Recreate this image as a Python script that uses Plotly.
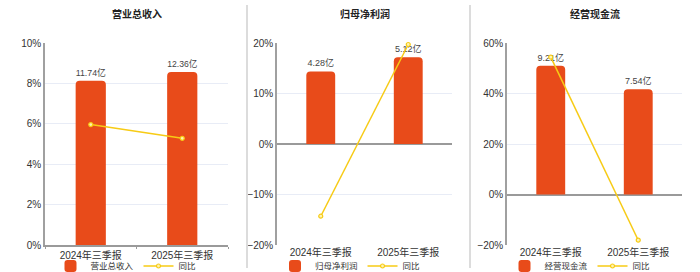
import plotly.graph_objects as go

categories = ["2024年三季报", "2025年三季报"]
titles = ["营业总收入", "归母净利润", "经营现金流"]
bar_values = [[11.74, 12.36], [4.28, 5.12], [9.21, 7.54]]
yoy_values = [[5.96, 5.28], [-14.3, 19.7], [54.4, -18.1]]
pct_ranges = [[0, 10], [-20, 20], [-20, 60]]
pct_dticks = [2, 10, 20]
bar_ranges = [[0, 14.43], [-5.96, 5.96], [-3.61, 10.84]]

W, H = 700, 272
x_domains = [[45 / W, 228 / W], [277 / W, 452 / W], [507 / W, 682 / W]]
legend_x = [126 / W, 350 / W, 580 / W]

BAR_COLOR = "#E84B1A"
LINE_COLOR = "#F7CB15"
FONT = "Liberation Sans, Noto Sans CJK SC, sans-serif"

fig = go.Figure()
layout = dict(
    width=W, height=H,
    margin=dict(l=0, r=0, t=43, b=27, autoexpand=False),
    paper_bgcolor="white", plot_bgcolor="white",
    font=dict(family=FONT, color="#333333", size=10),
    showlegend=True,
    bargap=0.67,
)
annotations = []
shapes = []

for i in range(3):
    xa = "x" if i == 0 else f"x{i+1}"
    yb_n = 2 * i + 1
    yp_n = 2 * i + 2
    yb = "y" if yb_n == 1 else f"y{yb_n}"
    yp = f"y{yp_n}"
    leg = "legend" if i == 0 else f"legend{i+1}"

    fig.add_trace(go.Bar(
        x=categories, y=bar_values[i], xaxis=xa, yaxis=yb,
        name=titles[i], marker=dict(color=BAR_COLOR, cornerradius=4,
                                    line=dict(width=0)),
        text=[f"{v:.2f}亿" for v in bar_values[i]],
        textposition="outside", cliponaxis=False,
        textfont=dict(size=9, color="#444444"),
        legend=leg, hoverinfo="skip",
    ))
    fig.add_trace(go.Scatter(
        x=categories, y=yoy_values[i], xaxis=xa, yaxis=yp,
        name="同比", mode="lines+markers",
        line=dict(color=LINE_COLOR, width=1.5),
        marker=dict(symbol="circle", size=4, color="#FFF3B0",
                    line=dict(color=LINE_COLOR, width=1.2)),
        cliponaxis=False, legend=leg, hoverinfo="skip",
    ))

    xkey = "xaxis" if i == 0 else f"xaxis{i+1}"
    ybkey = "yaxis" if yb_n == 1 else f"yaxis{yb_n}"
    ypkey = f"yaxis{yp_n}"

    layout[xkey] = dict(
        domain=x_domains[i], anchor=yb, type="category",
        showgrid=False, zeroline=False, automargin=False,
        showline=(i == 0), linecolor="#9A9A9A", linewidth=2,
        ticks="outside" if i == 0 else "", tickson="boundaries",
        ticklen=2, tickcolor="#9A9A9A",
        tickfont=dict(size=10, color="#333333"),
        fixedrange=True,
    )
    layout[ybkey] = dict(
        domain=[0, 1], anchor=xa, range=bar_ranges[i], visible=False,
        fixedrange=True,
    )
    layout[ypkey] = dict(
        domain=[0, 1], anchor=xa, overlaying=yb, side="left",
        range=pct_ranges[i], dtick=pct_dticks[i], ticksuffix="%",
        showgrid=True, gridcolor="#E8ECF6", gridwidth=1,
        zeroline=(i != 0), zerolinecolor="#9A9A9A", zerolinewidth=2,
        showline=True, linecolor="#A0A0A0", linewidth=1.5,
        ticks="", tickfont=dict(size=10, color="#333333"),
        automargin=False, fixedrange=True,
    )
    legkey = "legend" if i == 0 else f"legend{i+1}"
    layout[legkey] = dict(
        orientation="h", x=legend_x[i], xanchor="center",
        y=(245 - 266) / 202, yanchor="middle",
        font=dict(size=8.5, color="#333333"),
        itemwidth=30, bgcolor="rgba(0,0,0,0)", tracegroupgap=0,
    )
    annotations.append(dict(
        text=f"<b>{titles[i]}</b>", xref="paper", yref="paper",
        x=(x_domains[i][0] + x_domains[i][1]) / 2,
        y=(245 - 14) / 202, xanchor="center", yanchor="middle",
        showarrow=False, font=dict(size=10, color="#222222"),
    ))

for sx in [247 / W, 470 / W]:
    shapes.append(dict(
        type="line", xref="paper", yref="paper",
        x0=sx, x1=sx, y0=(245 - 268) / 202, y1=(245 - 5) / 202,
        line=dict(color="#DCDCDC", width=2),
    ))

layout["annotations"] = annotations
layout["shapes"] = shapes
fig.update_layout(**layout)
fig.write_html("out.html")
